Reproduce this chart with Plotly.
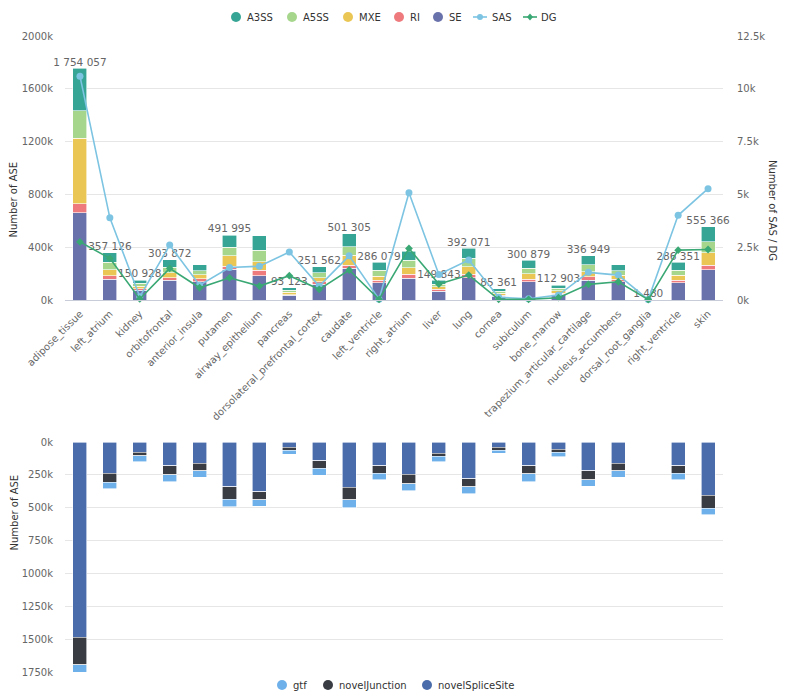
import plotly.graph_objects as go

categories = ["adipose_tissue", "left_atrium", "kidney", "orbitofrontal", "anterior_insula",
              "putamen", "airway_epithelium", "pancreas", "dorsolateral_prefrontal_cortex",
              "caudate", "left_ventricle", "right_atrium", "liver", "lung", "cornea",
              "subiculum", "bone_marrow", "trapezium_articular_cartilage", "nucleus_accumbens",
              "dorsal_root_ganglia", "right_ventricle", "skin"]

SE = [662000, 158000, 73000, 150000, 140000, 232000, 183000, 35000, 120000, 239000, 130000,
      164000, 65000, 169000, 30000, 140000, 45000, 150000, 140000, 600, 130000, 231000]
RI = [68000, 26000, 13000, 18000, 20000, 25000, 43000, 5000, 17000, 25000, 20000,
      30000, 15000, 25000, 5000, 18000, 8000, 25000, 18000, 50, 20000, 33000]
MXE = [495000, 47000, 20000, 38000, 30000, 80000, 63000, 20000, 33000, 76000, 31000,
       50000, 20000, 58000, 15000, 40000, 17000, 38000, 30000, 200, 38000, 93000]
A5SS = [209000, 56000, 20000, 41000, 30000, 61000, 88000, 15000, 36000, 62000, 45000,
        58000, 20000, 63000, 15000, 41000, 20000, 53000, 32000, 250, 37000, 83000]
A3SS = [320000, 70000, 25000, 57000, 48000, 94000, 111000, 18000, 46000, 99000, 60000,
        68000, 30000, 77000, 20000, 62000, 23000, 71000, 47000, 380, 61000, 115000]

totals = [1754057, 357126, 150928, 303872, 268000, 491995, 488000, 93123, 251562, 501305, 286079,
          370000, 149843, 392071, 85361, 300879, 112903, 336949, 267000, 1480, 286351, 555366]
label_shown = [1, 1, 1, 1, 0, 1, 0, 1, 1, 1, 1, 0, 1, 1, 1, 1, 1, 1, 0, 1, 1, 1]

SAS = [10600, 3890, 150, 2600, 700, 1540, 1600, 2270, 660, 2090, 40,
       5080, 1210, 1890, 130, 60, 235, 1310, 1180, 20, 4010, 5270]
DG = [2750, 1970, 50, 1500, 580, 1050, 660, 1150, 505, 1420, 30,
      2440, 755, 1180, 30, 30, 110, 740, 865, 20, 2360, 2390]

novelSpliceSite = [1487000, 237000, 79000, 181000, 161000, 339000, 378000, 41000, 143000, 344000, 181000,
                   245000, 84000, 278000, 41000, 181000, 54000, 217000, 161000, 1000, 181000, 406000]
novelJunction = [209000, 69000, 24000, 69000, 58000, 97000, 63000, 22000, 55000, 97000, 56000,
                 73000, 26000, 61000, 20000, 61000, 23000, 71000, 56000, 200, 56000, 99000]
gtf = [58000, 51000, 48000, 54000, 51000, 56000, 47000, 30000, 54000, 60000, 49000,
       52000, 40000, 53000, 24000, 59000, 36000, 49000, 50000, 280, 49000, 50000]

left_ticks = [0, 400000, 800000, 1200000, 1600000, 2000000]
left_ticktext = ["0k", "400k", "800k", "1200k", "1600k", "2000k"]
right_ticks = [0, 2500, 5000, 7500, 10000, 12500]
right_ticktext = ["0k", "2.5k", "5k", "7.5k", "10k", "12.5k"]
bottom_ticks = [0, 250000, 500000, 750000, 1000000, 1250000, 1500000, 1750000]
bottom_ticktext = ["0k", "250k", "500k", "750k", "1000k", "1250k", "1500k", "1750k"]

top_legend = ["A3SS", "A5SS", "MXE", "RI", "SE", "SAS", "DG"]
bottom_legend = ["gtf", "novelJunction", "novelSpliceSite"]

C = {"A3SS": "#37a596", "A5SS": "#a6d68c", "MXE": "#eac655", "RI": "#ee7a7d", "SE": "#6a72ac",
     "SAS": "#7cc4e2", "DG": "#3aa874",
     "gtf": "#6eb0ea", "novelJunction": "#3a3c44", "novelSpliceSite": "#4a6caa"}

W, H = 794, 697
L, R = 65, 71
PW = W - L - R
FONT = "DejaVu Sans"
XRANGE = [-0.5, len(categories) - 0.5]


def py(pix):
    return 1 - pix / H


def px(pix):
    return (pix - L) / PW


fig = go.Figure()

for name, vals in [("SE", SE), ("RI", RI), ("MXE", MXE), ("A5SS", A5SS), ("A3SS", A3SS)]:
    fig.add_trace(go.Bar(x=categories, y=vals, name=name, marker_color=C[name],
                         marker_line=dict(color="white", width=0.6),
                         xaxis="x", yaxis="y"))

fig.add_trace(go.Scatter(x=categories, y=totals, mode="text", name="total",
                         text=[f"{v:,}".replace(",", " ") if s else "" for v, s in zip(totals, label_shown)],
                         textposition="top center", textfont=dict(size=10.5, color="#666", family=FONT),
                         hoverinfo="skip", cliponaxis=False, xaxis="x", yaxis="y"))

fig.add_trace(go.Scatter(x=categories, y=SAS, name="SAS", mode="lines+markers",
                         line=dict(color=C["SAS"], width=1.6),
                         marker=dict(symbol="circle", size=7, color=C["SAS"]),
                         cliponaxis=False, xaxis="x", yaxis="y2"))
fig.add_trace(go.Scatter(x=categories, y=DG, name="DG", mode="lines+markers",
                         line=dict(color=C["DG"], width=1.6),
                         marker=dict(symbol="diamond", size=6, color=C["DG"]),
                         cliponaxis=False, xaxis="x", yaxis="y2"))

for name, vals in [("novelSpliceSite", novelSpliceSite), ("novelJunction", novelJunction), ("gtf", gtf)]:
    fig.add_trace(go.Bar(x=categories, y=vals, name=name, marker_color=C[name],
                         marker_line=dict(color="white", width=0.6),
                         xaxis="x2", yaxis="y3"))

# ---- custom legends (echarts-like compact layout) ----
shapes = []
annotations = []
legend_font = dict(size=10, color="#333", family=FONT)


def circle_icon(cx, cy, color, r=5):
    shapes.append(dict(type="circle", xref="paper", yref="paper", xsizemode="pixel", ysizemode="pixel",
                       xanchor=px(cx), yanchor=py(cy), x0=-r, x1=r, y0=-r, y1=r,
                       fillcolor=color, line=dict(width=0)))


def line_icon(cx, cy, color, marker):
    shapes.append(dict(type="line", xref="paper", yref="paper", xsizemode="pixel", ysizemode="pixel",
                       xanchor=px(cx), yanchor=py(cy), x0=-7, x1=7, y0=0, y1=0,
                       line=dict(color=color, width=1.6)))
    if marker == "circle":
        circle_icon(cx, cy, color, r=3)
    else:
        shapes.append(dict(type="path", xref="paper", yref="paper", xsizemode="pixel", ysizemode="pixel",
                           xanchor=px(cx), yanchor=py(cy), path="M 0 3.5 L 3 0 L 0 -3.5 L -3 0 Z",
                           fillcolor=color, line=dict(width=0)))


def legend_text(x, y, text):
    annotations.append(dict(text=text, xref="paper", yref="paper", x=px(x), y=py(y),
                            xanchor="left", yanchor="middle", showarrow=False, font=legend_font))


top_icon_x = [236, 292, 348, 399, 438, 480, 530]
top_text_x = [245, 301, 357, 408, 447, 490, 539]
for name, ix, tx in zip(top_legend, top_icon_x, top_text_x):
    if name == "SAS":
        line_icon(ix, 17, C[name], "circle")
    elif name == "DG":
        line_icon(ix, 17, C[name], "diamond")
    else:
        circle_icon(ix, 17, C[name])
    legend_text(tx, 17, name)

bot_icon_x = [282, 328, 427]
bot_text_x = [291, 337, 436]
for name, ix, tx in zip(bottom_legend, bot_icon_x, bot_text_x):
    circle_icon(ix, 685, C[name])
    legend_text(tx, 685, name)

title_font = dict(size=10, color="#333", family=FONT)
annotations += [
    dict(text="Number of ASE", xref="paper", yref="paper", x=px(6), y=py(160),
         textangle=-90, showarrow=False, font=title_font),
    dict(text="Number of SAS / DG", xref="paper", yref="paper", x=px(780), y=py(158),
         textangle=90, showarrow=False, font=title_font),
    dict(text="Number of ASE", xref="paper", yref="paper", x=px(6), y=py(553),
         textangle=-90, showarrow=False, font=title_font),
]

top_dom = [py(300), py(36)]
bot_dom = [py(672), py(442)]
tickfont = dict(size=10, color="#666", family=FONT)

fig.update_layout(
    width=W, height=H,
    margin=dict(l=L, r=R, t=0, b=0, autoexpand=False),
    paper_bgcolor="white", plot_bgcolor="white",
    barmode="stack", bargap=0.53,
    showlegend=False,
    font=dict(family=FONT, color="#333"),
    xaxis=dict(domain=[0, 1], anchor="y", type="category", categoryorder="array",
               categoryarray=categories, range=XRANGE, autorange=False,
               tickangle=-45, tickfont=tickfont, automargin=False,
               showline=True, linecolor="#c8ccd8", linewidth=1, showgrid=False,
               ticks="outside", ticklen=3, tickcolor="rgba(0,0,0,0)"),
    yaxis=dict(domain=top_dom, anchor="x", range=[0, 2000000], tickvals=left_ticks,
               ticktext=left_ticktext, tickfont=tickfont, gridcolor="#e6e6e6", automargin=False,
               zeroline=False, showline=False, ticks="outside", ticklen=9,
               tickcolor="rgba(0,0,0,0)"),
    yaxis2=dict(overlaying="y", side="right", anchor="x", range=[0, 12500], tickvals=right_ticks,
                ticktext=right_ticktext, tickfont=tickfont, showgrid=False, zeroline=False,
                automargin=False, ticks="outside", ticklen=11, tickcolor="rgba(0,0,0,0)"),
    xaxis2=dict(domain=[0, 1], anchor="y3", type="category", categoryorder="array",
                categoryarray=categories, range=XRANGE, autorange=False,
                showticklabels=False, showline=False, showgrid=False,
                automargin=False, ticks=""),
    yaxis3=dict(domain=bot_dom, anchor="x2", range=[1750000, 0], tickvals=bottom_ticks,
                ticktext=bottom_ticktext, tickfont=tickfont, gridcolor="#e6e6e6", automargin=False,
                zeroline=False, showline=False, ticks="outside", ticklen=9,
                tickcolor="rgba(0,0,0,0)"),
    shapes=shapes,
    annotations=annotations,
)

fig.write_html("out.html")
